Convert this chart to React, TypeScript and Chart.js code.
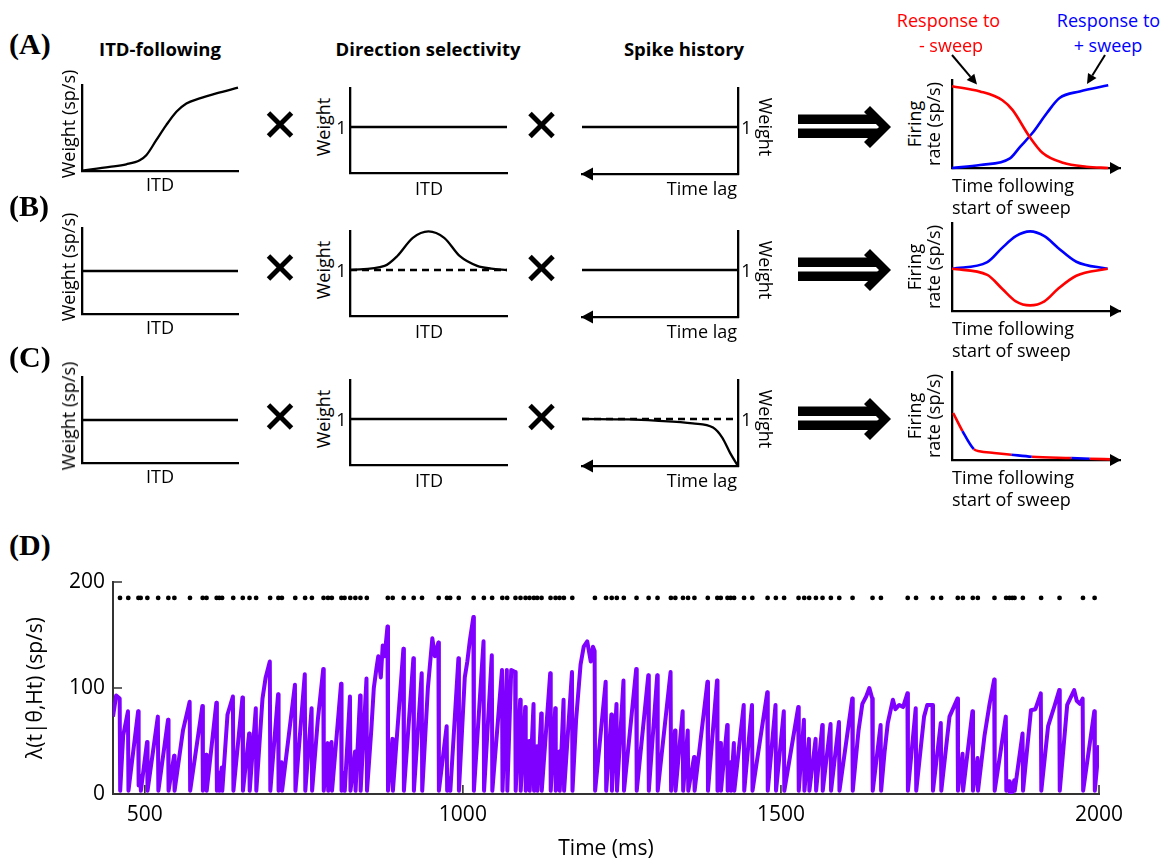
import React, { useEffect, useRef } from "react";
import { Chart, registerables } from "chart.js";
Chart.register(...registerables);

const SANS = "'Open Sans', 'Noto Sans', sans-serif";
const SERIF = "'Liberation Serif', 'Times New Roman', serif";

type Pt = [number, number];

// ---------------- Panel D data ----------------
const dXRange = [450, 2000];
const dYRange = [0, 200];
const dXTicks = [500, 1000, 1500, 2000];
const dYTicks = [0, 100, 200];
const spikeRowLevel = 185;

const spikeTimes = [
  461, 474, 490, 493.5, 504, 521, 537, 546.5, 571, 591, 597, 613, 617, 621.5, 639, 654, 664.6, 675, 697, 710,
  715.5, 736.5, 752, 762.7, 781, 788, 794, 809, 814, 823, 831, 839, 849, 882, 889.7, 907, 922.7, 935.8, 962,
  975, 980, 993.5, 1017, 1033, 1046, 1062, 1069.6, 1082.7, 1090.6, 1098.5, 1104.8, 1111.6, 1116.8, 1123.7,
  1137.8, 1145.7, 1152, 1158.8, 1172, 1207.6, 1225, 1234, 1242, 1253, 1273, 1292, 1306, 1327, 1334, 1346,
  1354, 1364, 1385, 1400, 1405.4, 1416, 1421, 1426.4, 1442, 1455, 1479, 1492, 1505, 1527.7, 1536.6, 1544.4,
  1555, 1565.4, 1578.5, 1591.7, 1612.6, 1644, 1657.2, 1699.3, 1712.4, 1738.7, 1751.8, 1778, 1786, 1801.6,
  1809.5, 1835.7, 1854, 1859.3, 1863.5, 1867.2, 1880.3, 1909, 1938, 1974.8, 1993.1,
];

const traceSeg1: Pt[] = [
  [450, 73], [455, 93], [460.5, 90],
  [461.3, 3], [466, 55], [473.5, 78],
  [474.3, 3], [489.5, 78],
  [490.3, 8], [493, 17],
  [493.8, 3], [503.5, 49],
  [504.3, 3], [520.5, 73],
  [521.3, 3], [536.5, 70],
  [537.3, 3], [546, 36],
  [546.8, 3], [560, 60], [570.5, 87],
  [571.3, 3], [590.5, 83],
  [591.3, 3], [596.5, 37],
  [597.3, 3], [612.5, 86],
  [613.3, 3], [616.5, 20],
  [617.3, 3], [621, 25],
  [621.8, 3], [630, 75], [638.5, 92],
  [639.3, 3], [653.5, 91],
  [654.3, 3], [664, 57],
  [664.9, 3], [674.5, 81],
  [675.3, 3], [685, 90], [690, 110], [696.5, 125],
  [697.3, 3], [709.5, 94],
  [710.3, 3], [715, 30],
  [715.8, 3], [736, 103],
  [736.8, 3], [751.5, 113],
];

const traceSeg2: Pt[] = [
  [752.3, 3], [762.2, 81],
  [763, 3], [772, 70], [780.5, 118],
  [781.3, 3], [787.5, 48],
  [788.3, 3], [793.5, 49],
  [794.3, 3], [808.5, 104],
  [809.3, 3], [813.5, 20],
  [814.3, 3], [822.5, 92],
  [823.3, 3], [830.5, 40],
  [831.3, 3], [838.5, 93],
  [839.3, 3], [848.5, 109],
  [849.3, 3], [856, 60], [860, 100], [864, 118], [867, 130], [871, 110], [874, 140], [877, 130], [881.5, 158],
  [882.3, 3], [889.2, 52],
  [890, 3], [906.5, 137],
  [907.3, 3], [922.2, 128],
  [923, 3], [935.3, 114],
  [936.1, 3], [945, 100], [952, 147], [956, 130], [961.5, 143],
  [962.3, 3], [974.5, 64],
  [975.3, 3], [979.5, 15],
  [980.3, 3], [993, 128],
  [993.8, 3], [1003, 110], [1007, 125], [1011, 145], [1016.5, 167],
  [1017.3, 3], [1032.5, 144],
  [1033.3, 3], [1045.5, 131],
  [1046.3, 3], [1061.5, 117],
  [1062.3, 3], [1069.1, 117],
];

const traceSeg3: Pt[] = [
  [1069.9, 3], [1076, 117], [1082.2, 115],
  [1083, 3], [1090.1, 89],
  [1090.9, 3], [1098, 82],
  [1098.8, 3], [1104.3, 50],
  [1105.1, 3], [1111.1, 85],
  [1111.9, 3], [1116.3, 45],
  [1117.1, 3], [1123.2, 76],
  [1124, 3], [1137.3, 114],
  [1138.1, 3], [1145.2, 81],
  [1146, 3], [1151.5, 40],
  [1152.3, 3], [1158.3, 89],
  [1159.1, 3], [1171.5, 115],
  [1172.3, 3], [1178, 70], [1185, 122], [1190, 139], [1195.5, 144], [1201, 125], [1204.5, 139], [1207.1, 135],
  [1207.9, 3], [1224.5, 106],
  [1225.3, 3], [1233.5, 75],
  [1234.3, 3], [1241.5, 85],
  [1242.3, 3], [1252.5, 107],
  [1253.3, 3], [1272.5, 118],
  [1273.3, 3], [1291.5, 112],
  [1292.3, 3], [1305.5, 112],
  [1306.3, 3], [1326.5, 115],
  [1327.3, 3], [1333.5, 60],
  [1334.3, 3], [1345.5, 78],
  [1346.3, 3], [1353.5, 60],
  [1354.3, 3], [1363.5, 35],
  [1364.3, 3], [1384.5, 106],
];

const traceSeg4: Pt[] = [
  [1385.3, 3], [1399.5, 107],
  [1400.3, 3], [1405, 48],
  [1405.7, 3], [1415.5, 65],
  [1416.3, 3], [1420.5, 30],
  [1421.3, 3], [1426, 48],
  [1426.7, 3], [1441.5, 84],
  [1442.3, 3], [1454.5, 84],
  [1455.3, 3], [1478.5, 96],
  [1479.3, 3], [1491.5, 84],
  [1492.3, 3], [1504.5, 78],
  [1505.3, 3], [1527.2, 82],
  [1528, 3], [1536.1, 70],
  [1536.9, 3], [1544, 52],
  [1544.7, 3], [1554.5, 52],
  [1555.3, 3], [1565, 65],
  [1565.7, 3], [1578, 66],
  [1578.8, 3], [1591.2, 68],
  [1592, 3], [1612.1, 90],
  [1612.9, 3], [1622, 60], [1628, 85], [1634, 92], [1639, 100], [1643.5, 90],
  [1644.3, 3], [1656.7, 65],
  [1657.5, 3], [1663, 40], [1668, 67], [1676, 89], [1680, 80], [1686, 84], [1692, 82], [1698.8, 95],
];

const traceSeg5: Pt[] = [
  [1699.6, 3], [1711.9, 81],
  [1712.7, 3], [1725, 73], [1730, 84], [1738.2, 84],
  [1739, 3], [1751.3, 67],
  [1752.1, 3], [1765, 73], [1777.5, 90],
  [1778.3, 3], [1785.5, 38],
  [1786.3, 3], [1801.1, 78],
  [1801.9, 3], [1809, 34],
  [1809.8, 3], [1820, 55], [1828, 85], [1835.2, 108],
  [1836, 3], [1853.5, 73],
  [1854.3, 3], [1858.8, 12],
  [1859.6, 2], [1863, 10],
  [1863.8, 2], [1866.7, 13],
  [1867.5, 3], [1879.8, 57],
  [1880.6, 3], [1893, 79], [1900, 80], [1908.5, 95],
  [1909.3, 3], [1920, 64], [1930, 83], [1937.5, 98],
  [1938.3, 3], [1950, 84], [1961, 98], [1965, 88], [1970, 85], [1974.3, 90],
  [1975.1, 3], [1992.6, 78],
  [1993.4, 3], [2000, 46],
];

const tracePoints: Pt[] = [...traceSeg1, ...traceSeg2, ...traceSeg3, ...traceSeg4, ...traceSeg5];

// ---------------- Small panel data (normalised units) ----------------
const itdFollowing: Pt[] = [
  [0, 0.005], [0.177, 0.047], [0.284, 0.078], [0.37, 0.125], [0.412, 0.183], [0.476, 0.358],
  [0.54, 0.533], [0.605, 0.689], [0.669, 0.786], [0.754, 0.844], [0.861, 0.903], [1, 0.969],
];
const flatHalf: Pt[] = [[0, 0.5], [1, 0.5]];
const flatOne: Pt[] = [[0, 1], [1, 1]];
const dirBump: Pt[] = [
  [0, 1.0], [0.22, 1.09], [0.3, 1.3], [0.4, 1.7], [0.5, 1.84], [0.6, 1.7], [0.7, 1.3], [0.81, 1.09], [0.9, 1.03], [1, 1.0],
];
const historyDecay: Pt[] = [
  [0, 1.0], [0.3, 0.99], [0.47, 0.964], [0.71, 0.906], [0.84, 0.819], [0.9, 0.6], [0.95, 0.275], [1, 0],
];
const respMinusA: Pt[] = [
  [0, 0.93], [0.167, 0.87], [0.3, 0.77], [0.36, 0.66], [0.46, 0.36], [0.54, 0.17], [0.66, 0.06], [0.8, 0.015], [0.93, 0.0],
];
const respPlusA: Pt[] = [
  [0, 0], [0.167, 0.034], [0.345, 0.11], [0.405, 0.24], [0.48, 0.4], [0.565, 0.625], [0.64, 0.795], [0.76, 0.87], [0.93, 0.94],
];
const respPlusB: Pt[] = [
  [0, 0.48], [0.21, 0.555], [0.3, 0.72], [0.38, 0.85], [0.465, 0.905], [0.55, 0.85], [0.63, 0.72], [0.74, 0.56], [0.926, 0.48],
];
const respMinusB: Pt[] = [
  [0, 0.48], [0.21, 0.41], [0.3, 0.25], [0.38, 0.11], [0.465, 0.064], [0.55, 0.11], [0.63, 0.25], [0.74, 0.4], [0.926, 0.48],
];
const respC: Pt[] = [
  [0.007, 0.534], [0.0625, 0.328], [0.13, 0.123], [0.163, 0.1], [0.25, 0.08], [0.353, 0.06], [0.475, 0.037], [0.71, 0.022], [0.82, 0.015], [0.946, 0.007],
];
const RED = "#ff0000";
const BLUE = "#0000ff";
const respCColors = [RED, BLUE, RED, RED, RED, BLUE, RED, BLUE, RED];

// ---------------- Plugins ----------------
const arrowPlugin = {
  id: "axisArrow",
  afterDraw(chart: any, _a: any, opts: any) {
    if (!opts || !opts.side) return;
    const { ctx, chartArea } = chart;
    const { left, right, bottom } = chartArea;
    ctx.save();
    ctx.fillStyle = "#000";
    ctx.beginPath();
    if (opts.side === "right") {
      ctx.moveTo(right + 1, bottom);
      ctx.lineTo(right - 10, bottom - 6);
      ctx.lineTo(right - 10, bottom + 6);
    } else {
      ctx.moveTo(left - 1, bottom);
      ctx.lineTo(left + 11, bottom - 6.5);
      ctx.lineTo(left + 11, bottom + 6.5);
    }
    ctx.closePath();
    ctx.fill();
    ctx.restore();
  },
};

const inwardTicks = {
  id: "inwardTicks",
  afterDatasetsDraw(chart: any) {
    const { ctx, chartArea, scales } = chart;
    ctx.save();
    ctx.strokeStyle = "#333";
    ctx.lineWidth = 1.6;
    ctx.beginPath();
    dXTicks.forEach((v) => {
      const px = scales.x.getPixelForValue(v);
      ctx.moveTo(px, chartArea.bottom);
      ctx.lineTo(px, chartArea.bottom - 9);
    });
    dYTicks.forEach((v) => {
      const py = scales.y.getPixelForValue(v);
      ctx.moveTo(chartArea.left, py);
      ctx.lineTo(chartArea.left + 9, py);
    });
    ctx.stroke();
    ctx.restore();
  },
};

// ---------------- Components ----------------
type Series = { pts: Pt[]; color: string; width?: number; dash?: number[]; smooth?: boolean; segColors?: string[] };
type PanelProps = {
  left: number; top: number; width: number; height: number; yMax: number;
  yPos?: "left" | "right"; arrow?: "left" | "right"; series: Series[];
};

function SmallPanel(p: PanelProps) {
  const ref = useRef<HTMLCanvasElement>(null);
  const M = 10;
  useEffect(() => {
    const axisBase = {
      type: "linear" as const,
      grid: { display: false, drawTicks: false },
      ticks: { display: false },
      border: { display: true, color: "#000", width: 2.3 },
    };
    const chart = new Chart(ref.current!, {
      type: "line",
      data: {
        datasets: p.series.map((s) => ({
          data: s.pts.map(([x, y]) => ({ x, y })),
          borderColor: s.color,
          borderWidth: s.width ?? 2.3,
          borderDash: s.dash ?? [],
          pointRadius: 0,
          fill: false,
          clip: false as any,
          cubicInterpolationMode: s.smooth === false ? ("default" as const) : ("monotone" as const),
          tension: 0,
          segment: s.segColors ? { borderColor: (c: any) => s.segColors![c.p0DataIndex] } : undefined,
        })),
      },
      options: {
        responsive: false,
        animation: false,
        events: [],
        layout: { padding: M },
        plugins: { legend: { display: false }, tooltip: { enabled: false }, axisArrow: { side: p.arrow } } as any,
        scales: {
          x: { ...axisBase, min: 0, max: 1, afterFit: (s: any) => { s.height = 0; } },
          y: { ...axisBase, position: p.yPos ?? "left", min: 0, max: p.yMax, afterFit: (s: any) => { s.width = 0; } },
        } as any,
      },
      plugins: [arrowPlugin],
    });
    return () => chart.destroy();
  }, []);
  const w = p.width + 2 * M;
  const h = p.height + 2 * M;
  return (
    <canvas
      ref={ref}
      width={w}
      height={h}
      style={{ position: "absolute", left: p.left - M, top: p.top - M, width: w, height: h }}
    />
  );
}

function TracePanel() {
  const ref = useRef<HTMLCanvasElement>(null);
  const top = 560;
  const W = 1166;
  const H = 302;
  useEffect(() => {
    const font = { family: SANS, size: 21 };
    const chart = new Chart(ref.current!, {
      type: "line",
      data: {
        datasets: [
          {
            data: spikeTimes.map((t) => ({ x: t, y: spikeRowLevel })),
            showLine: false,
            pointRadius: 2.4,
            pointBackgroundColor: "#000",
            pointBorderWidth: 0,
            borderColor: "#000",
          },
          {
            data: tracePoints.map(([x, y]) => ({ x, y })),
            borderColor: "#8000ff",
            borderWidth: 4,
            borderJoinStyle: "round",
            pointRadius: 0,
            tension: 0,
            fill: false,
          },
        ],
      },
      options: {
        responsive: false,
        animation: false,
        events: [],
        layout: { padding: { top: 22, right: W - 1099, bottom: 0, left: 0 } },
        plugins: { legend: { display: false }, tooltip: { enabled: false } },
        scales: {
          x: {
            type: "linear",
            min: dXRange[0],
            max: dXRange[1],
            grid: { display: false, drawTicks: false },
            border: { display: true, color: "#333", width: 2 },
            ticks: { font, color: "#000", padding: 8, callback: (v: any) => String(v) },
            afterBuildTicks: (s: any) => { s.ticks = dXTicks.map((v) => ({ value: v })); },
            title: { display: true, text: "Time (ms)", font, color: "#000", padding: { top: 0, bottom: 0 } },
            afterFit: (s: any) => { s.height = H - 234; },
          },
          y: {
            type: "linear",
            min: dYRange[0],
            max: dYRange[1],
            grid: { display: false, drawTicks: false },
            border: { display: true, color: "#333", width: 2 },
            ticks: { font, color: "#000", padding: 8, callback: (v: any) => String(v) },
            afterBuildTicks: (s: any) => { s.ticks = dYTicks.map((v) => ({ value: v })); },
            title: { display: true, text: "λ(t|θ,Ht) (sp/s)", font, color: "#000", padding: { top: 23, bottom: 0 } },
            afterFit: (s: any) => { s.width = 113; },
          },
        } as any,
      },
      plugins: [inwardTicks],
    });
    return () => chart.destroy();
  }, []);
  return (
    <canvas ref={ref} width={W} height={H} style={{ position: "absolute", left: 0, top, width: W, height: H }} />
  );
}

type TxtProps = {
  x: number; y: number; text: string; size?: number; bold?: boolean; color?: string;
  rot?: number; anchor?: "center" | "left" | "right"; font?: string;
};
function Txt({ x, y, text, size = 18, bold = false, color = "#000", rot = 0, anchor = "center", font = SANS }: TxtProps) {
  const tx = anchor === "center" ? "-50%" : anchor === "left" ? "0%" : "-100%";
  return (
    <div
      style={{
        position: "absolute", left: x, top: y, transform: `translate(${tx}, -50%) rotate(${rot}deg)`,
        fontFamily: font, fontSize: size, fontWeight: bold ? 700 : 400, color, whiteSpace: "nowrap", lineHeight: 1,
      }}
    >
      {text}
    </div>
  );
}

const rowOffsets = [0, 143, 292];
const rowLetters = ["(A)", "(B)", "(C)"];
const rowLetterY = [44, 206, 357];

export default function App() {
  const rows = rowOffsets.map((off, r) => {
    const p1: Series[] = r === 0 ? [{ pts: itdFollowing, color: "#000" }] : [{ pts: flatHalf, color: "#000", smooth: false }];
    const p2: Series[] =
      r === 1
        ? [{ pts: flatOne, color: "#000", dash: [7, 5], smooth: false }, { pts: dirBump, color: "#000" }]
        : [{ pts: flatOne, color: "#000", smooth: false }];
    const p3: Series[] =
      r === 2
        ? [{ pts: flatOne, color: "#000", dash: [7, 5], smooth: false }, { pts: historyDecay, color: "#000" }]
        : [{ pts: flatOne, color: "#000", smooth: false }];
    const p4: Series[] =
      r === 0
        ? [{ pts: respMinusA, color: RED, width: 2.6 }, { pts: respPlusA, color: BLUE, width: 2.6 }]
        : r === 1
        ? [{ pts: respMinusB, color: RED, width: 2.6 }, { pts: respPlusB, color: BLUE, width: 2.6 }]
        : [{ pts: respC, color: RED, width: 2.6, segColors: respCColors }];
    return (
      <React.Fragment key={r}>
        <SmallPanel left={82} top={85 + off} width={156} height={86} yMax={1} series={p1} />
        <SmallPanel left={350} top={88 + off} width={157} height={85} yMax={1.848} series={p2} />
        <SmallPanel left={582} top={88 + off} width={156} height={86} yMax={1.83} yPos="right" arrow="left" series={p3} />
        <SmallPanel left={952} top={80 + off} width={168} height={88} yMax={1} arrow="right" series={p4} />
        <Txt x={9} y={rowLetterY[r]} text={rowLetters[r]} size={30} bold font={SERIF} anchor="left" />
        <Txt x={160} y={183.5 + off} text="ITD" />
        <Txt x={68} y={124 + off} text="Weight (sp/s)" rot={-90} />
        <Txt x={323} y={127 + off} text="Weight" rot={-90} />
        <Txt x={341.5} y={127 + off} text="1" />
        <Txt x={429} y={187.5 + off} text="ITD" />
        <Txt x={746.5} y={127 + off} text="1" />
        <Txt x={765.5} y={127 + off} text="Weight" rot={90} />
        <Txt x={737} y={187.5 + off} text="Time lag" anchor="right" />
        <Txt x={913.5} y={124 + off} text="Firing" rot={-90} />
        <Txt x={932.5} y={124 + off} text="rate (sp/s)" rot={-90} />
        <Txt x={952} y={185 + off} text="Time following" anchor="left" />
        <Txt x={952} y={207 + off} text="start of sweep" anchor="left" />
      </React.Fragment>
    );
  });

  return (
    <div style={{ position: "absolute", left: 0, top: 0, width: 1166, height: 862, background: "#fff", overflow: "hidden" }}>
      <svg width={1166} height={862} style={{ position: "absolute", left: 0, top: 0 }}>
        {rowOffsets.map((off, r) => (
          <g key={r} transform={`translate(0, ${off})`}>
            <line x1={268.5} y1={113} x2={291.5} y2={136} stroke="#000" strokeWidth={5} />
            <line x1={291.5} y1={113} x2={268.5} y2={136} stroke="#000" strokeWidth={5} />
            <line x1={530} y1={113.5} x2={553} y2={136.5} stroke="#000" strokeWidth={5} />
            <line x1={553} y1={113.5} x2={530} y2={136.5} stroke="#000" strokeWidth={5} />
            <rect x={798} y={114.5} width={80} height={9.5} fill="#000" />
            <rect x={798} y={128.5} width={80} height={9.5} fill="#000" />
            <polygon points="864,112 870,106 891,127 870,148 864,142 879,127" fill="#000" />
          </g>
        ))}
        <line x1={952} y1={55} x2={970.5} y2={76.9} stroke="#000" strokeWidth={2} />
        <polygon points="977,84.5 966.7,80.1 974.3,73.7" fill="#000" />
        <line x1={1105} y1={55} x2={1092.3} y2={75.5} stroke="#000" strokeWidth={2} />
        <polygon points="1087,84 1096.5,78.1 1088,72.9" fill="#000" />
      </svg>
      {rows}
      <Txt x={160} y={49} text="ITD-following" bold size={18.5} />
      <Txt x={428} y={49} text="Direction selectivity" bold size={18.5} />
      <Txt x={684} y={49} text="Spike history" bold size={18.5} />
      <Txt x={948.5} y={20} text="Response to" color={RED} />
      <Txt x={951} y={45} text="- sweep" color={RED} />
      <Txt x={1108.5} y={20} text="Response to" color={BLUE} />
      <Txt x={1108} y={45} text="+ sweep" color={BLUE} />
      <Txt x={9} y={545} text="(D)" size={30} bold font={SERIF} anchor="left" />
      <TracePanel />
    </div>
  );
}
